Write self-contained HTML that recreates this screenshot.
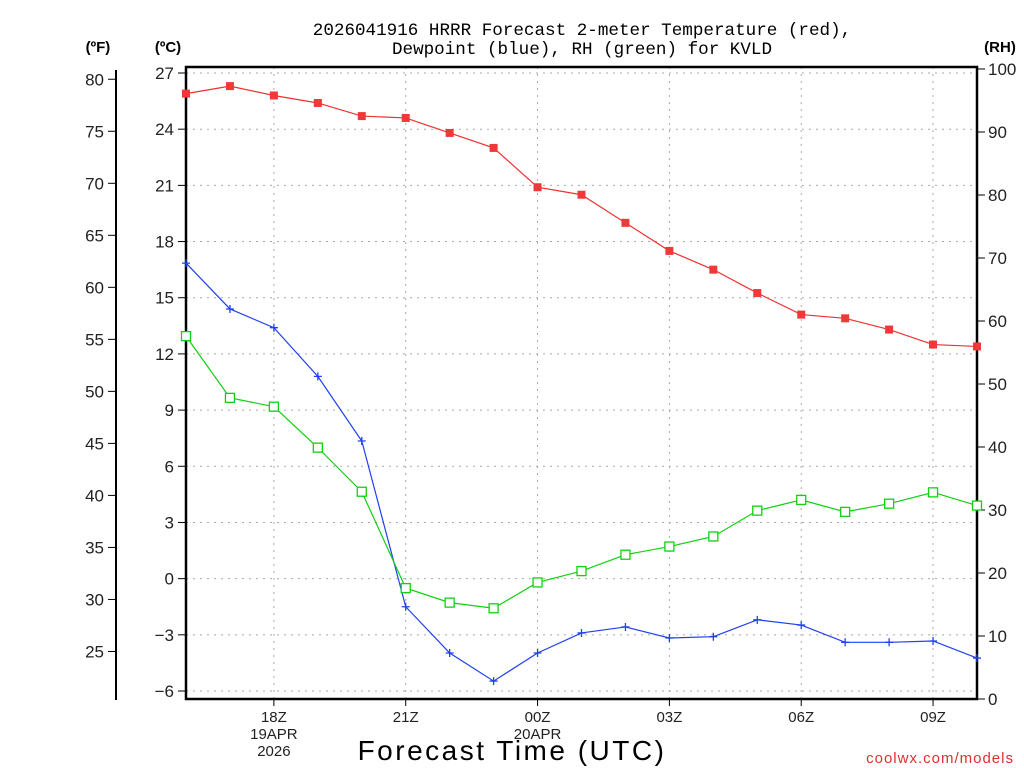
<!DOCTYPE html>
<html><head><meta charset="utf-8"><style>
body{margin:0;background:#fff;}
svg{display:block;font-family:"Liberation Sans",sans-serif;}
</style></head><body>
<svg id="chart" width="1024" height="768" viewBox="0 0 1024 768">
<g id="grid"></g>
<g id="axes"></g>
<g id="series"></g>
<text x="582" y="35" text-anchor="middle" font-size="17.6" font-family="Liberation Mono, monospace" fill="#000">2026041916 HRRR Forecast 2-meter Temperature (red),</text>
<text x="582" y="54" text-anchor="middle" font-size="17.6" font-family="Liberation Mono, monospace" fill="#000">Dewpoint (blue), RH (green) for KVLD</text>
<text x="98" y="52" text-anchor="middle" font-size="15" font-weight="bold">(ºF)</text>
<text x="168" y="52" text-anchor="middle" font-size="15" font-weight="bold">(ºC)</text>
<text x="1000" y="52" text-anchor="middle" font-size="15" font-weight="bold">(RH)</text>
<text x="512" y="760" text-anchor="middle" font-size="28" letter-spacing="2.5">Forecast Time (UTC)</text>
<text x="1014" y="763" text-anchor="end" font-size="15" fill="#e03030" letter-spacing="1">coolwx.com/models</text>
</svg>
<script>
const hours = [16,17,18,19,20,21,22,23,24,25,26,27,28,29,30,31,32,33,34];
const tempC = [25.9,26.3,25.8,25.4,24.7,24.6,23.8,23.0,20.9,20.5,19.0,17.5,16.5,15.25,14.1,13.9,13.3,12.5,12.4];
const dewC = [16.85,14.4,13.4,10.8,7.35,-1.5,-3.97,-5.47,-3.97,-2.9,-2.58,-3.17,-3.1,-2.2,-2.48,-3.4,-3.4,-3.33,-4.24];
const rh = [57.6,47.8,46.4,39.9,32.9,17.6,15.3,14.4,18.5,20.3,22.9,24.2,25.8,29.9,31.6,29.7,31.0,32.8,30.7];
const cTicks = [-6,-3,0,3,6,9,12,15,18,21,24,27];
const fTicks = [25,30,35,40,45,50,55,60,65,70,75,80];
const rhTicks = [0,10,20,30,40,50,60,70,80,90,100];
const xTickHours = [18,21,24,27,30,33];
const xTickLabels = [["18Z","19APR","2026"],["21Z"],["00Z","20APR"],["03Z"],["06Z"],["09Z"]];

const L=186,R=977,T=67,B=699;
const xs=h=>L+(h-16)*(R-L)/18;
const yc=c=>691-(c+6)*18.727;
const yf=f=>yc((f-32)*5/9);
const yr=r=>699-r*6.3;
const NS="http://www.w3.org/2000/svg";
function mk(tag,attrs,parent,text){const e=document.createElementNS(NS,tag);for(const k in attrs)e.setAttribute(k,attrs[k]);if(text!==undefined)e.textContent=text;parent.appendChild(e);return e;}
const grid=document.getElementById('grid'),axes=document.getElementById('axes'),ser=document.getElementById('series');
cTicks.forEach(c=>{
 const g=mk('line',{x1:L,x2:R,y1:yc(c),y2:yc(c),stroke:'#aaa','stroke-dasharray':'2,5'},grid);
 
 
 mk('line',{x1:L-8,x2:L,y1:yc(c),y2:yc(c),stroke:'#000'},axes);
 const t=mk('text',{x:L-12,y:yc(c)+6,'text-anchor':'end','font-size':'17',fill:'#222'},axes,c<0?'\u2212'+(-c):String(c));
 
 
});
xTickHours.forEach((h,i)=>{
 const g=mk('line',{x1:xs(h),x2:xs(h),y1:T,y2:B,stroke:'#aaa','stroke-dasharray':'2,5'},grid);
 
 
 mk('line',{x1:xs(h),x2:xs(h),y1:B,y2:B+7,stroke:'#000'},axes);
 xTickLabels[i].forEach((s,j)=>{
  const t=mk('text',{x:xs(h),y:B+23+j*17,'text-anchor':'middle','font-size':'15',fill:'#222'},axes,s);
  
  
 });
});
fTicks.forEach(f=>{
 mk('line',{x1:108,x2:116,y1:yf(f),y2:yf(f),stroke:'#000'},axes);
 const t=mk('text',{x:104,y:yf(f)+6,'text-anchor':'end','font-size':'17',fill:'#222'},axes,String(f));
 
 
});
rhTicks.forEach(r=>{
 mk('line',{x1:R,x2:R+8,y1:yr(r),y2:yr(r),stroke:'#000'},axes);
 const t=mk('text',{x:R+11,y:yr(r)+6,'font-size':'17',fill:'#222'},axes,String(r));
 
 
});
mk('line',{x1:116,x2:116,y1:70,y2:700,stroke:'#000','stroke-width':2},axes);
const box=mk('rect',{x:L,y:T,width:R-L,height:B-T,fill:'none',stroke:'#000','stroke-width':2.5},axes);



function line(vals,yfn,color,name){
 const p=mk('polyline',{points:vals.map((v,i)=>xs(hours[i])+','+yfn(v)).join(' '),fill:'none',stroke:color,'stroke-width':1.2},ser);
 
 
}
line(tempC,yc,'#f03030','temperature-line');
line(dewC,yc,'#2040f0','dewpoint-line');
line(rh,yr,'#10d010','rh-line');
tempC.forEach((v,i)=>{
 const m=mk('rect',{x:xs(hours[i])-4,y:yc(v)-4,width:8,height:8,fill:'#f03838'},ser);
 
 
});
dewC.forEach((v,i)=>{
 const x=xs(hours[i]),y=yc(v);
 const m=mk('path',{d:`M${x-4},${y}H${x+4}M${x},${y-4}V${y+4}`,stroke:'#2040f0','stroke-width':1.3},ser);
 
 
});
rh.forEach((v,i)=>{
 const m=mk('rect',{x:xs(hours[i])-4.5,y:yr(v)-4.5,width:9,height:9,fill:'#fff',stroke:'#10d010','stroke-width':1.3},ser);
 
 
});
</script>
</body></html>
